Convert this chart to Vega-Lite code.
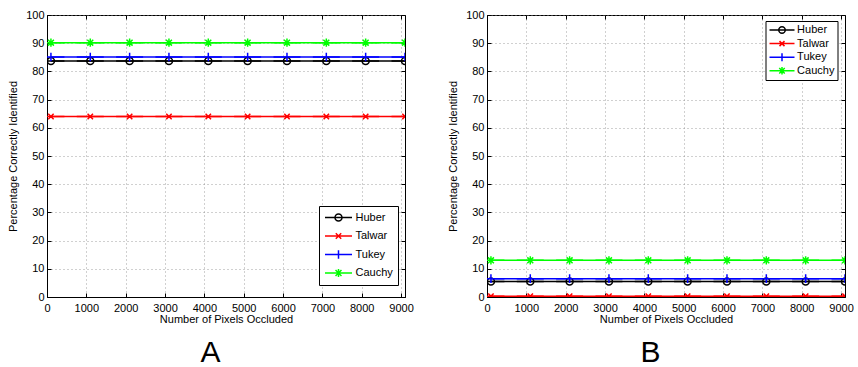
{
  "$schema": "https://vega.github.io/schema/vega-lite/v6.json",
  "background": "white",
  "padding": {"left": 7, "top": 8, "right": 0, "bottom": 0},
  "spacing": 33,
  "datasets": {
    "A": [
      {"method": "Huber", "pixels": 100, "pct": 83.7}, {"method": "Huber", "pixels": 1100, "pct": 83.7}, {"method": "Huber", "pixels": 2100, "pct": 83.7}, {"method": "Huber", "pixels": 3100, "pct": 83.7}, {"method": "Huber", "pixels": 4100, "pct": 83.7}, {"method": "Huber", "pixels": 5100, "pct": 83.7}, {"method": "Huber", "pixels": 6100, "pct": 83.7}, {"method": "Huber", "pixels": 7100, "pct": 83.7}, {"method": "Huber", "pixels": 8100, "pct": 83.7}, {"method": "Huber", "pixels": 9100, "pct": 83.7},
      {"method": "Talwar", "pixels": 100, "pct": 64.0}, {"method": "Talwar", "pixels": 1100, "pct": 64.0}, {"method": "Talwar", "pixels": 2100, "pct": 64.0}, {"method": "Talwar", "pixels": 3100, "pct": 64.0}, {"method": "Talwar", "pixels": 4100, "pct": 64.0}, {"method": "Talwar", "pixels": 5100, "pct": 64.0}, {"method": "Talwar", "pixels": 6100, "pct": 64.0}, {"method": "Talwar", "pixels": 7100, "pct": 64.0}, {"method": "Talwar", "pixels": 8100, "pct": 64.0}, {"method": "Talwar", "pixels": 9100, "pct": 64.0},
      {"method": "Tukey", "pixels": 100, "pct": 85.1}, {"method": "Tukey", "pixels": 1100, "pct": 85.1}, {"method": "Tukey", "pixels": 2100, "pct": 85.1}, {"method": "Tukey", "pixels": 3100, "pct": 85.1}, {"method": "Tukey", "pixels": 4100, "pct": 85.1}, {"method": "Tukey", "pixels": 5100, "pct": 85.1}, {"method": "Tukey", "pixels": 6100, "pct": 85.1}, {"method": "Tukey", "pixels": 7100, "pct": 85.1}, {"method": "Tukey", "pixels": 8100, "pct": 85.1}, {"method": "Tukey", "pixels": 9100, "pct": 85.1},
      {"method": "Cauchy", "pixels": 100, "pct": 90.2}, {"method": "Cauchy", "pixels": 1100, "pct": 90.2}, {"method": "Cauchy", "pixels": 2100, "pct": 90.2}, {"method": "Cauchy", "pixels": 3100, "pct": 90.2}, {"method": "Cauchy", "pixels": 4100, "pct": 90.2}, {"method": "Cauchy", "pixels": 5100, "pct": 90.2}, {"method": "Cauchy", "pixels": 6100, "pct": 90.2}, {"method": "Cauchy", "pixels": 7100, "pct": 90.2}, {"method": "Cauchy", "pixels": 8100, "pct": 90.2}, {"method": "Cauchy", "pixels": 9100, "pct": 90.2}
    ],
    "B": [
      {"method": "Huber", "pixels": 100, "pct": 5.5}, {"method": "Huber", "pixels": 1100, "pct": 5.5}, {"method": "Huber", "pixels": 2100, "pct": 5.5}, {"method": "Huber", "pixels": 3100, "pct": 5.5}, {"method": "Huber", "pixels": 4100, "pct": 5.5}, {"method": "Huber", "pixels": 5100, "pct": 5.5}, {"method": "Huber", "pixels": 6100, "pct": 5.5}, {"method": "Huber", "pixels": 7100, "pct": 5.5}, {"method": "Huber", "pixels": 8100, "pct": 5.5}, {"method": "Huber", "pixels": 9100, "pct": 5.5},
      {"method": "Talwar", "pixels": 100, "pct": 0.3}, {"method": "Talwar", "pixels": 1100, "pct": 0.3}, {"method": "Talwar", "pixels": 2100, "pct": 0.3}, {"method": "Talwar", "pixels": 3100, "pct": 0.3}, {"method": "Talwar", "pixels": 4100, "pct": 0.3}, {"method": "Talwar", "pixels": 5100, "pct": 0.3}, {"method": "Talwar", "pixels": 6100, "pct": 0.3}, {"method": "Talwar", "pixels": 7100, "pct": 0.3}, {"method": "Talwar", "pixels": 8100, "pct": 0.3}, {"method": "Talwar", "pixels": 9100, "pct": 0.3},
      {"method": "Tukey", "pixels": 100, "pct": 6.5}, {"method": "Tukey", "pixels": 1100, "pct": 6.5}, {"method": "Tukey", "pixels": 2100, "pct": 6.5}, {"method": "Tukey", "pixels": 3100, "pct": 6.5}, {"method": "Tukey", "pixels": 4100, "pct": 6.5}, {"method": "Tukey", "pixels": 5100, "pct": 6.5}, {"method": "Tukey", "pixels": 6100, "pct": 6.5}, {"method": "Tukey", "pixels": 7100, "pct": 6.5}, {"method": "Tukey", "pixels": 8100, "pct": 6.5}, {"method": "Tukey", "pixels": 9100, "pct": 6.5},
      {"method": "Cauchy", "pixels": 100, "pct": 13.0}, {"method": "Cauchy", "pixels": 1100, "pct": 13.0}, {"method": "Cauchy", "pixels": 2100, "pct": 13.0}, {"method": "Cauchy", "pixels": 3100, "pct": 13.0}, {"method": "Cauchy", "pixels": 4100, "pct": 13.0}, {"method": "Cauchy", "pixels": 5100, "pct": 13.0}, {"method": "Cauchy", "pixels": 6100, "pct": 13.0}, {"method": "Cauchy", "pixels": 7100, "pct": 13.0}, {"method": "Cauchy", "pixels": 8100, "pct": 13.0}, {"method": "Cauchy", "pixels": 9100, "pct": 13.0}
    ]
  },
  "config": {
    "font": "Liberation Sans",
    "view": {"stroke": "black", "strokeWidth": 1},
    "axis": {
      "labelFont": "Liberation Sans", "labelFontSize": 11, "labelColor": "black",
      "titleFont": "Liberation Sans", "titleFontSize": 11, "titleFontWeight": "normal", "titleColor": "black",
      "domainColor": "black", "domainWidth": 1, "tickColor": "black", "tickSize": -4, "tickWidth": 1,
      "gridColor": "#888", "gridDash": [1, 3], "gridWidth": 0.8,
      "labelFlush": false, "labelOverlap": false, "format": "d"
    },
    "axisX": {"labelPadding": 9, "titlePadding": 0},
    "axisY": {"labelPadding": 7, "titlePadding": 7},
    "legend": {
      "labelFont": "Liberation Sans", "labelFontSize": 11, "labelColor": "black",
      "strokeColor": "black", "fillColor": "white", "symbolStrokeWidth": 1.5
    },
    "title": {"font": "Liberation Sans", "fontSize": 30, "fontWeight": "normal", "color": "black"}
  },
  "resolve": {"scale": {"color": "independent", "shape": "independent"}, "legend": {"color": "independent", "shape": "independent"}},
  "hconcat": [
    {
      "width": 358, "height": 282,
      "data": {"name": "A"},
      "title": {"text": "A", "orient": "bottom", "frame": "bounds", "anchor": "middle", "offset": 14},
      "resolve": {"axis": {"x": "independent", "y": "independent"}},
      "encoding": {
        "color": {"field": "method", "type": "nominal",
                  "scale": {"domain": ["Huber", "Talwar", "Tukey", "Cauchy"], "range": ["#000000", "#ff0000", "#0000ff", "#00ff00"]},
                  "legend": {"title": null, "orient": "none", "legendX": 272, "legendY": 191, "symbolSize": 729, "clipHeight": 13, "rowPadding": 5.5, "padding": 5, "labelOffset": 2.5}}
      },
      "layer": [
        {"mark": {"type": "line", "strokeWidth": 1.5},
         "encoding": {
           "x": {"field": "pixels", "type": "quantitative", "title": "Number of Pixels Occluded",
                 "scale": {"domain": [0, 9100], "nice": false},
                 "axis": {"orient": "bottom", "values": [0, 1000, 2000, 3000, 4000, 5000, 6000, 7000, 8000, 9000]}},
           "y": {"field": "pct", "type": "quantitative", "title": "Percentage Correctly Identified",
                 "scale": {"domain": [0, 100], "nice": false},
                 "axis": {"orient": "left", "values": [0, 10, 20, 30, 40, 50, 60, 70, 80, 90, 100]}}
         }},
        {"mark": {"type": "point", "filled": false, "strokeWidth": 1.5, "size": 729, "opacity": 1, "clip": true},
         "encoding": {
           "x": {"field": "pixels", "type": "quantitative", "axis": null},
           "y": {"field": "pct", "type": "quantitative", "axis": null},
           "shape": {"field": "method", "type": "nominal",
           "scale": {"domain": ["Huber", "Talwar", "Tukey", "Cauchy"],
                     "range": ["M-1,0L1,0M-0.26,0A0.26,0.26,0,1,1,0.26,0A0.26,0.26,0,1,1,-0.26,0",
                               "M-1,0L1,0M-0.2,-0.2L0.2,0.2M-0.2,0.2L0.2,-0.2",
                               "M-1,0L1,0M0,-0.32L0,0.32",
                               "M-1,0L1,0M0,-0.3L0,0.3M-0.22,-0.22L0.22,0.22M-0.22,0.22L0.22,-0.22"]},
           "legend": {"title": null, "orient": "none", "legendX": 272, "legendY": 191, "symbolSize": 729, "clipHeight": 13, "rowPadding": 5.5, "padding": 5, "labelOffset": 2.5}}}},
        {"mark": {"type": "point", "opacity": 0},
         "encoding": {
           "x": {"field": "pixels", "type": "quantitative", "title": null, "axis": {"orient": "top", "values": [0, 1000, 2000, 3000, 4000, 5000, 6000, 7000, 8000, 9000], "labels": false, "title": null, "grid": false, "domain": false}},
           "y": {"field": "pct", "type": "quantitative", "title": null, "axis": {"orient": "right", "values": [0, 10, 20, 30, 40, 50, 60, 70, 80, 90, 100], "labels": false, "title": null, "grid": false, "domain": false}},
           "color": {"value": "black"}
         }}
      ]
    },
    {
      "width": 358, "height": 282,
      "data": {"name": "B"},
      "title": {"text": "B", "orient": "bottom", "frame": "bounds", "anchor": "middle", "offset": 14},
      "resolve": {"axis": {"x": "independent", "y": "independent"}},
      "encoding": {
        "color": {"field": "method", "type": "nominal",
                  "scale": {"domain": ["Huber", "Talwar", "Tukey", "Cauchy"], "range": ["#000000", "#ff0000", "#0000ff", "#00ff00"]},
                  "legend": {"title": null, "orient": "none", "legendX": 278.5, "legendY": 6, "symbolSize": 625, "clipHeight": 12, "rowPadding": 1.6, "padding": 3, "labelOffset": 1.6}}
      },
      "layer": [
        {"mark": {"type": "line", "strokeWidth": 1.5},
         "encoding": {
           "x": {"field": "pixels", "type": "quantitative", "title": "Number of Pixels Occluded",
                 "scale": {"domain": [0, 9100], "nice": false},
                 "axis": {"orient": "bottom", "values": [0, 1000, 2000, 3000, 4000, 5000, 6000, 7000, 8000, 9000]}},
           "y": {"field": "pct", "type": "quantitative", "title": "Percentage Correctly Identified",
                 "scale": {"domain": [0, 100], "nice": false},
                 "axis": {"orient": "left", "values": [0, 10, 20, 30, 40, 50, 60, 70, 80, 90, 100]}}
         }},
        {"mark": {"type": "point", "filled": false, "strokeWidth": 1.5, "size": 729, "opacity": 1, "clip": true},
         "encoding": {
           "x": {"field": "pixels", "type": "quantitative", "axis": null},
           "y": {"field": "pct", "type": "quantitative", "axis": null},
           "shape": {"field": "method", "type": "nominal",
           "scale": {"domain": ["Huber", "Talwar", "Tukey", "Cauchy"],
                     "range": ["M-1,0L1,0M-0.26,0A0.26,0.26,0,1,1,0.26,0A0.26,0.26,0,1,1,-0.26,0",
                               "M-1,0L1,0M-0.2,-0.2L0.2,0.2M-0.2,0.2L0.2,-0.2",
                               "M-1,0L1,0M0,-0.32L0,0.32",
                               "M-1,0L1,0M0,-0.3L0,0.3M-0.22,-0.22L0.22,0.22M-0.22,0.22L0.22,-0.22"]},
           "legend": {"title": null, "orient": "none", "legendX": 278.5, "legendY": 6, "symbolSize": 625, "clipHeight": 12, "rowPadding": 1.6, "padding": 3, "labelOffset": 1.6}}}},
        {"mark": {"type": "point", "opacity": 0},
         "encoding": {
           "x": {"field": "pixels", "type": "quantitative", "title": null, "axis": {"orient": "top", "values": [0, 1000, 2000, 3000, 4000, 5000, 6000, 7000, 8000, 9000], "labels": false, "title": null, "grid": false, "domain": false}},
           "y": {"field": "pct", "type": "quantitative", "title": null, "axis": {"orient": "right", "values": [0, 10, 20, 30, 40, 50, 60, 70, 80, 90, 100], "labels": false, "title": null, "grid": false, "domain": false}},
           "color": {"value": "black"}
         }}
      ]
    }
  ]
}
